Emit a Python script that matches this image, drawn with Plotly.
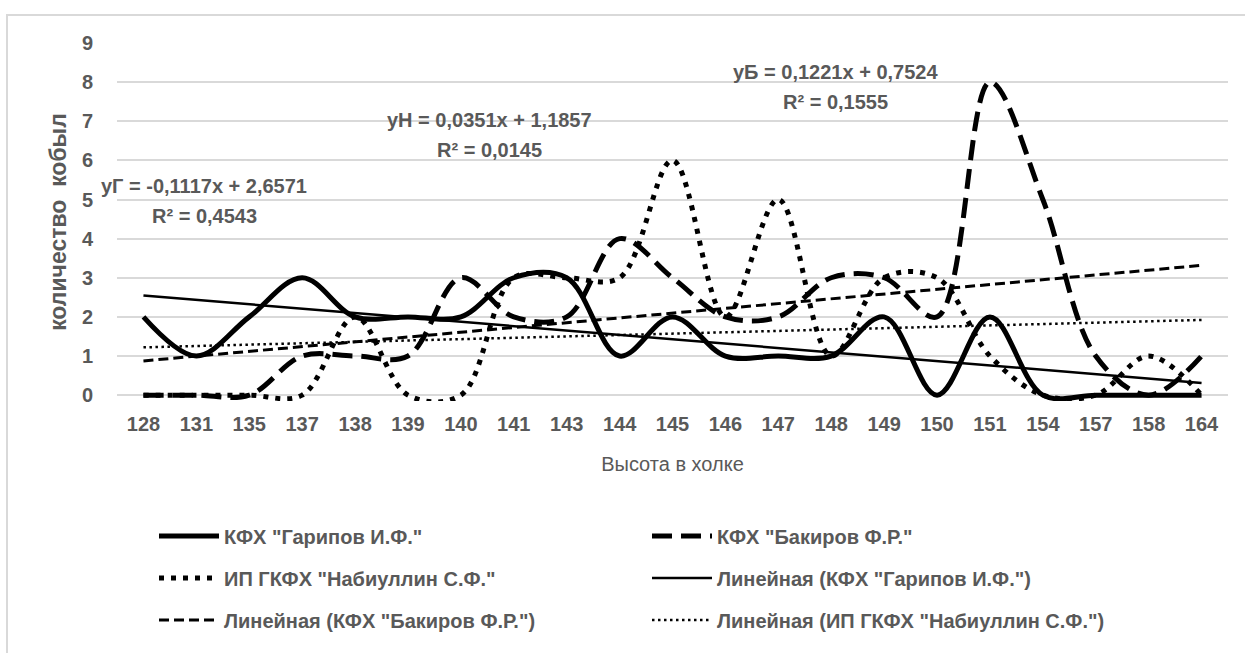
import numpy as np
import plotly.graph_objects as go

# Heights at the withers (category axis) and mare counts per farm
heights = ["128", "131", "135", "137", "138", "139", "140", "141", "143", "144", "145",
           "146", "147", "148", "149", "150", "151", "154", "157", "158", "164"]
garipov = [2, 1, 2, 3, 2, 2, 2, 3, 3, 1, 2, 1, 1, 1, 2, 0, 2, 0, 0, 0, 0]
bakirov = [0, 0, 0, 1, 1, 1, 3, 2, 2, 4, 3, 2, 2, 3, 3, 2, 8, 5, 1, 0, 1]
nabiullin = [0, 0, 0, 0, 2, 0, 0, 3, 3, 3, 6, 2, 5, 1, 3, 3, 1, 0, 0, 1, 0]

names = ['КФХ "Гарипов И.Ф."', 'КФХ "Бакиров Ф.Р."', 'ИП ГКФХ "Набиуллин С.Ф."']
eq_prefix = ["yГ", "yБ", "yН"]

GRAY = "#595959"
GRID = "#d9d9d9"
FONT = "Liberation Sans"

# Plot-area box in pixels (used to place legends and equation labels)
W, H = 1245, 653
L, R, T, B = 117, 1228, 43, 401


def pxx(px):
    return (px - L) / (R - L)


def pxy(py):
    return (B - py) / (B - T)


def fmt(v):
    return f"{v:.4f}".replace(".", ",")


idx = np.arange(1, len(heights) + 1)

series = [garipov, bakirov, nabiullin]
main_styles = [
    dict(width=5, dash="solid"),
    dict(width=5, dash="20px,9px"),
    dict(width=5, dash="5px,7px"),
]
trend_styles = [
    dict(width=2.5, dash="solid"),
    dict(width=3, dash="10px,5px"),
    dict(width=2.5, dash="2.5px,3.5px"),
]
main_legend = ["legend", "legend", "legend2"]
trend_legend = ["legend2", "legend3", "legend3"]

fig = go.Figure()

for s, st, lg, nm in zip(series, main_styles, main_legend, names):
    fig.add_trace(go.Scatter(
        x=heights, y=s, mode="lines", name=nm, legend=lg,
        line=dict(color="black", shape="spline", smoothing=1, **st),
    ))

fits = []
for s in series:
    slope, intercept = np.polyfit(idx, s, 1)
    pred = slope * idx + intercept
    ss_res = np.sum((np.array(s) - pred) ** 2)
    ss_tot = np.sum((np.array(s) - np.mean(s)) ** 2)
    fits.append((slope, intercept, 1 - ss_res / ss_tot, pred))

for (slope, intercept, r2, pred), st, lg, nm in zip(fits, trend_styles, trend_legend, names):
    fig.add_trace(go.Scatter(
        x=heights, y=pred, mode="lines", name=f"Линейная ({nm})", legend=lg,
        line=dict(color="black", **st),
    ))

# Trend equation labels: (centre x px, first line y px)
label_pos = [(204, 186), (835, 72), (489, 120)]
annotations = []
for (slope, intercept, r2, _), pre, (cx, cy) in zip(fits, eq_prefix, label_pos):
    sign = "+" if intercept >= 0 else "-"
    line1 = f"{pre} = {fmt(slope)}x {sign} {fmt(abs(intercept))}"
    line2 = f"R² = {fmt(r2)}"
    for txt, yy in ((line1, cy), (line2, cy + 30)):
        annotations.append(dict(
            x=pxx(cx), y=pxy(yy), xref="paper", yref="paper", text=txt,
            showarrow=False, xanchor="center", yanchor="middle",
            font=dict(family=FONT, size=20, color=GRAY, weight="bold"),
        ))

legend_common = dict(
    orientation="h", xanchor="left", yanchor="middle",
    entrywidth=418, entrywidthmode="pixels", itemwidth=60,
    bgcolor="rgba(0,0,0,0)",
    font=dict(family=FONT, size=20, color=GRAY, weight="bold"),
)

fig.update_layout(
    width=W, height=H,
    margin=dict(l=L, r=W - R, t=T, b=H - B),
    paper_bgcolor="white", plot_bgcolor="white",
    font=dict(family=FONT, color=GRAY),
    xaxis=dict(
        type="category", range=[-0.5, len(heights) - 0.5],
        showgrid=False, zeroline=False, showline=False, ticks="",
        tickfont=dict(family=FONT, size=20, color=GRAY, weight="bold"),
        ticklabelstandoff=9,
        title=dict(text="Высота в холке", font=dict(family=FONT, size=20, color=GRAY),
                   standoff=22),
    ),
    yaxis=dict(
        range=[-0.15, 9], tickvals=list(range(10)), showgrid=True, gridcolor=GRID,
        gridwidth=2, zeroline=False, showline=False, ticks="",
        tickfont=dict(family=FONT, size=20, color=GRAY, weight="bold"),
        ticklabelstandoff=23,
        title=dict(text="количество  кобыл",
                   font=dict(family=FONT, size=23, color=GRAY, weight="bold"),
                   standoff=8),
    ),
    legend=dict(x=pxx(154), y=pxy(536), **legend_common),
    legend2=dict(x=pxx(154), y=pxy(578), **legend_common),
    legend3=dict(x=pxx(154), y=pxy(620), **legend_common),
    annotations=annotations,
    shapes=[dict(type="rect", xref="paper", yref="paper",
                 x0=pxx(7), x1=pxx(1300), y0=pxy(15), y1=pxy(720),
                 line=dict(color=GRID, width=2), layer="below")],
)

fig.write_html("out.html")
